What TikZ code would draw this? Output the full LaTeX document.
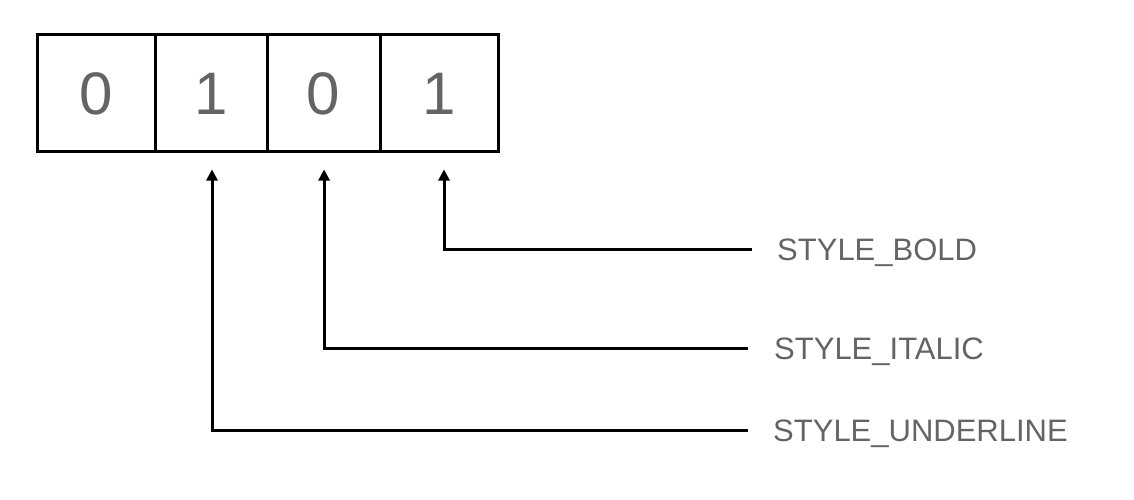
\documentclass[tikz,border=0pt]{standalone}
\usepackage{fontspec}
\setmainfont{Liberation Sans}
\usetikzlibrary{arrows.meta}
\definecolor{txtgrey}{HTML}{646464}
\tikzset{
  cell/.style={draw=black, line width=3pt, rectangle, inner sep=0pt,
    minimum height=116pt, text=txtgrey, text height=43pt, text depth=0pt,
    font=\fontsize{60}{72}\selectfont},
  flag/.style={anchor=west, inner sep=0pt, text=txtgrey, text height=22pt,
    text depth=0pt, font=\fontsize{31}{37}\selectfont},
  pointer/.style={draw=black, line width=3pt,
    -{Triangle[length=11pt,width=11pt]}}
}
\begin{document}
\begin{tikzpicture}[x=1pt,y=-1pt]
  \useasboundingbox (0,0) rectangle (1134,500);
  % four-bit style field
  \node[cell, minimum width=118pt] (c1) at (96.4,93) {0};
  \node[cell, minimum width=112pt] (c2) at (211.3,93) {1};
  \node[cell, minimum width=113pt] (c3) at (323.6,93) {0};
  \node[cell, minimum width=118pt] (c4) at (439,93) {1};
  % flag names
  \node[flag] (bold) at (777,249) {STYLE\_BOLD};
  \node[flag] (italic) at (774,348) {STYLE\_ITALIC};
  \node[flag] (underline) at (773,430) {STYLE\_UNDERLINE};
  % pointers from each flag to its bit
  \draw[pointer] ([xshift=-25pt]bold.west) -| ([xshift=5pt,yshift=-17pt]c4.south);
  \draw[pointer] ([xshift=-26pt]italic.west) -| ([xshift=0.5pt,yshift=-17pt]c3.south);
  \draw[pointer] ([xshift=-25pt]underline.west) -| ([xshift=0.7pt,yshift=-17pt]c2.south);
\end{tikzpicture}
\end{document}
